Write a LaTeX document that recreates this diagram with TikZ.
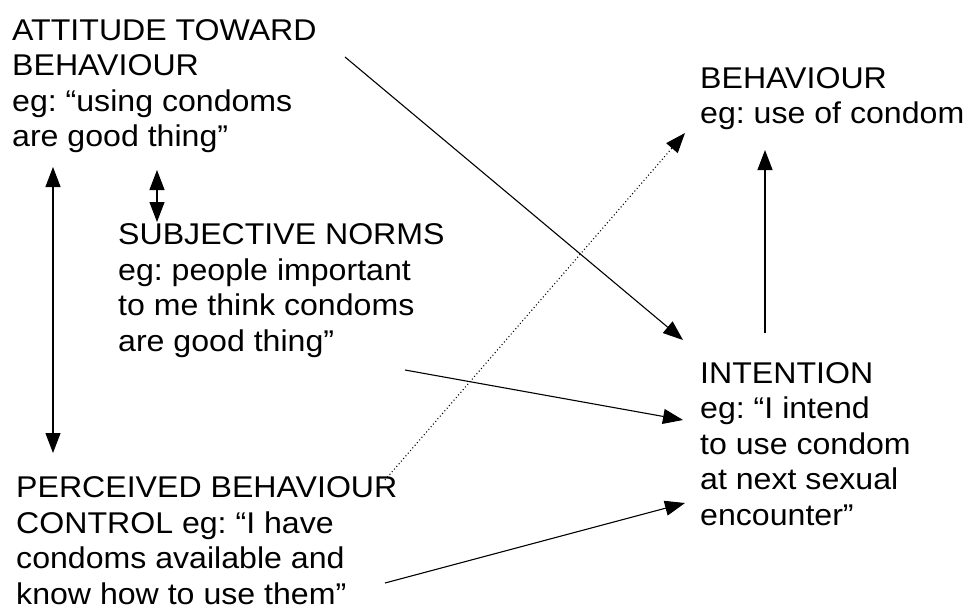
\documentclass[tikz,border=0pt]{standalone}
\usepackage{fontspec}
\setmainfont{Liberation Sans}[FakeStretch=1.07]
\usetikzlibrary{arrows.meta}
\frenchspacing

\begin{document}
\begin{tikzpicture}[x=1pt,y=-1pt,
  txt/.style={anchor=base west,align=left,inner sep=0pt,font=\fontsize{30}{35.5}\selectfont},
  arr/.style={line width=1.1pt,-{Triangle[length=20pt,width=15pt]}},
  dbl/.style={line width=1.1pt,{Triangle[length=20pt,width=15pt]}-{Triangle[length=20pt,width=15pt]}}]
\useasboundingbox [fill=white] (0,0) rectangle (976,610);

\node [txt] (att) at (12,146.5) {ATTITUDE TOWARD\\BEHAVIOUR\\eg: “using condoms\\are good thing”};
\node [txt] (beh) at (700,123.5) {BEHAVIOUR\\eg: use of condom};
\node [txt] (sub) at (118,351) {SUBJECTIVE NORMS\\eg: people important\\to me think condoms\\are good thing”};
\node [txt] (int) at (700,525) {INTENTION\\eg: “I intend\\to use condom\\at next sexual\\encounter”};
\node [txt] (pbc) at (16,604) {PERCEIVED BEHAVIOUR\\CONTROL eg: “I have\\condoms available and\\know how to use them”};

\coordinate (att-out) at (345,57);
\coordinate (att-down) at (53,167);
\coordinate (att-sub) at (157,170);
\coordinate (sub-up) at (157,222);
\coordinate (sub-out) at (405,370);
\coordinate (pbc-up) at (53,453);
\coordinate (pbc-dot) at (385,480);
\coordinate (pbc-out) at (385,583);
\coordinate (int-a) at (683,340);
\coordinate (int-b) at (683,420);
\coordinate (int-c) at (685,503);
\coordinate (int-out) at (765,333);
\coordinate (beh-a) at (685,133);
\coordinate (beh-b) at (765,150);

\draw [arr] (att-out) -- (int-a);
\draw [arr] (sub-out) -- (int-b);
\draw [arr] (pbc-out) -- (int-c);
\draw [arr,dash pattern=on 1pt off 2.5pt] (pbc-dot) -- (beh-a);
\draw [arr] (int-out) -- (beh-b);
\draw [dbl] (att-down) -- (pbc-up);
\draw [dbl] (att-sub) -- (sub-up);
\end{tikzpicture}
\end{document}
